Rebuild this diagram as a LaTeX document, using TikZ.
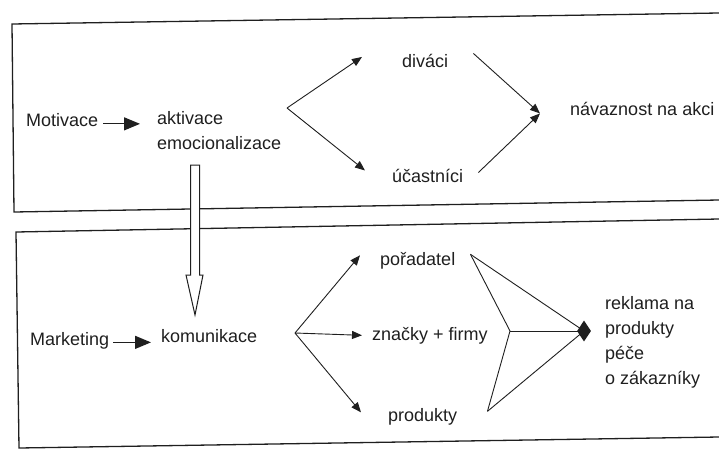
\documentclass[tikz,border=0pt]{standalone}
\usepackage{fontspec}
\setmainfont{Liberation Sans}
\usetikzlibrary{arrows.meta,shapes.geometric}
\definecolor{ink}{gray}{0.12}
\begin{document}
\begin{tikzpicture}[x=1pt,y=-1pt,
  lbl/.style={anchor=base west, inner sep=0pt, font=\fontsize{18}{25}\selectfont, text=ink},
  bigarr/.style={draw=ink, line width=1.2pt, -{Triangle[length=16pt,width=13pt]}},
  arr/.style={draw=ink, line width=0.9pt, -{Triangle[length=10pt,width=8pt]}},
  ln/.style={draw=ink, line width=0.9pt},
  boxline/.style={draw=ink, line width=1.3pt}]
\useasboundingbox (0,0) rectangle (719,450);

% panel frames (open towards the right edge)
\draw[boxline] (719,13) -- (12,24) -- (14,212) -- (719,200);
\draw[boxline] (719,219) -- (16,232) -- (19,448) -- (719,437);

% upper panel
\node[lbl] (mot) at (26,126.5) {Motivace};
\node[lbl] (akt) at (157,124) {aktivace};
\node[lbl] (emo) at (157,149) {emocionalizace};
\node[lbl] (div) at (402,67) {diváci};
\node[lbl] (uca) at (392,182) {účastníci};
\node[lbl] (nav) at (570,115) {návaznost na akci};

\draw[bigarr, shorten <=5pt, shorten >=17pt] (mot.mid east) -- (mot.mid east -| akt.west);

\coordinate (b1) at (287,108);
\draw[arr] (b1) -- ([shift={(-40,-3.5)}]div.west);
\draw[arr] (b1) -- ([shift={(-27,-5)}]uca.west);
\coordinate (navtip) at ([shift={(-30,5)}]nav.west);
\draw[arr] ([shift={(25,-7)}]div.east) -- (navtip);
\draw[arr] ([shift={(15,-3)}]uca.east) -- (navtip);

% lower panel
\node[lbl] (mkt) at (30,345) {Marketing};
\node[lbl] (kom) at (161,342) {komunikace};
\node[lbl] (por) at (380,265) {pořadatel};
\node[lbl] (zna) at (372,340) {značky + firmy};
\node[lbl] (pro) at (388,421) {produkty};
% base anchor of a multi-line node sits on its last line
\node[lbl, align=left] (rek) at (605,384) {reklama na\\produkty\\péče\\o zákazníky};

\draw[bigarr, shorten <=4pt, shorten >=10pt] (mkt.mid east) -- (mkt.mid east -| kom.west);

\coordinate (b2) at (295,333);
\draw[arr] (b2) -- ([shift={(-20,-5)}]por.west);
\draw[arr] (b2) -- ([shift={(-10,0)}]zna.west);
\draw[arr] (b2) -- ([shift={(-27,-4)}]pro.west);

% converging arrow-shaped figure
\coordinate (p1) at ([shift={(15,-6)}]por.east);
\coordinate (p3) at ([shift={(30,-5)}]pro.east);
\coordinate (kink) at (510,331);
\coordinate (dpt) at (584,331);
\draw[ln] (p1) -- (dpt);
\draw[ln] (p1) -- (kink) -- (p3);
\draw[ln] (kink) -- (dpt);
\draw[ln] (p3) -- (dpt);
\node[diamond, fill=ink, inner sep=0pt, minimum width=14pt, minimum height=21pt] (dia) at (dpt) {};

% hollow block arrow between the panels
\draw[draw=ink, line width=1pt, fill=white]
  (190.5,165) -- (190.5,275) -- (186,275) -- (195,315) -- (203,275)
  -- (199.5,275) -- (199.5,165) -- cycle;
\end{tikzpicture}
\end{document}
